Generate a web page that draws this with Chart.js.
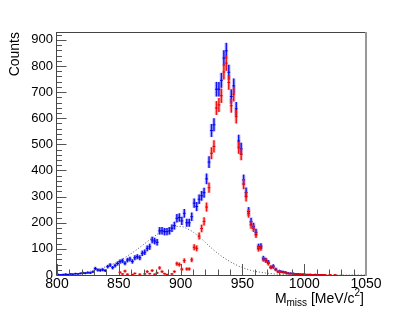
<!DOCTYPE html>
<html><head><meta charset="utf-8">
<script src="https://cdn.jsdelivr.net/npm/chart.js@4.4.0/dist/chart.umd.min.js"></script>
<style>html,body{margin:0;padding:0;background:#fff;} canvas{display:block;}</style>
</head><body>
<canvas id="c" width="407" height="320"></canvas>
<script>
// Bin centres (2 MeV bins, 800-1050 MeV)
const binCenters = [
  801,803,805,807,809,811,813,815,817,819,
  821,823,825,827,829,831,833,835,837,839,
  841,843,845,847,849,851,853,855,857,859,
  861,863,865,867,869,871,873,875,877,879,
  881,883,885,887,889,891,893,895,897,899,
  901,903,905,907,909,911,913,915,917,919,
  921,923,925,927,929,931,933,935,937,939,
  941,943,945,947,949,951,953,955,957,959,
  961,963,965,967,969,971,973,975,977,979,
  981,983,985,987,989,991,993,995,997,999,
  1001,1003,1005,1007,1009,1011,1013,1015,1017,1019,
  1021,1023,1025,1027,1029,1031,1033,1035,1037,1039,
  1041,1043,1045,1047,1049
];
// Blue histogram counts
const blueCounts = [
  2,1,2,3,2,4,3,5,4,6,
  8,7,9,8,12,25,19,18,20,17,
  32,38,28,36,44,51,54,45,57,61,
  52,66,70,66,83,87,102,108,134,130,
  125,169,169,166,166,169,179,189,217,220,
  207,236,200,200,223,275,262,290,303,315,
  368,432,553,575,711,711,745,830,858,776,
  683,724,636,513,483,364,316,243,204,185,
  163,108,110,64,57,49,30,34,22,13,
  13,12,10,7,6,6,4,4,3,3,
  2,2,2,1,2,1,1,1,null,null,
  null,null,null,null,null,null,null,null,null,null,
  null,null,null,null,null
];
// Red histogram counts
const redCounts = [
  null,null,null,null,null,null,null,null,null,null,
  null,null,null,null,null,null,null,null,null,null,
  null,null,null,null,null,10,4,15,3,null,
  2,6,null,3,null,4,13,5,17,3,
  8,27,13,5,2,null,4,13,43,40,
  22,55,23,23,58,106,102,149,178,205,
  260,334,466,492,639,651,686,777,811,737,
  648,692,606,487,462,348,300,236,192,179,
  155,101,104,60,55,44,29,30,20,12,
  12,10,8,6,5,4,3,3,2,2,
  2,1,2,1,1,1,1,1,1,null,
  1,null,1,null,null,null,null,null,null,null,
  null,null,null,null,null
];
// Dotted background curve
const curveX = [800,808,816,822,829,836,843,849,856,863,870,876,883,889,895,900,905,910,915,920,924,928,932,936,940,944,948,952,956,960,964,968,972,976,980,985,990,1000,1050];
const curveY = [1,2,5,9,17,26,38,50,70,92,117,138,162,177,185,186,178,165,146,125,107,91,76,63,51,41,32,25,19,14,11,8,6,4,3,2,1,0,0];
// Axis ticks
const xTickValues = [800,850,900,950,1000,1050];
const yTickValues = [0,100,200,300,400,500,600,700,800,900];

const FONT = '"Liberation Sans", Arial, Helvetica, sans-serif';

function errData(vals) {
  return binCenters.map((x, i) => vals[i] == null ? null : {x: x, y: [vals[i] - Math.sqrt(vals[i]), vals[i] + Math.sqrt(vals[i])]}).filter(Boolean);
}
function ptData(vals) {
  return binCenters.map((x, i) => vals[i] == null ? null : {x: x, y: vals[i]}).filter(Boolean);
}

const decor = {
  id: 'decor',
  afterDatasetsDraw(chart) {
    const {ctx, chartArea: a, scales: {x, y}} = chart;
    ctx.save();
    ctx.strokeStyle = '#555';
    ctx.lineWidth = 1;
    ctx.beginPath();
    for (let v = 800; v <= 1050; v += 10) {
      const px = Math.round(x.getPixelForValue(v)) + 0.5;
      const len = (v % 50 === 0) ? 11 : 5.5;
      ctx.moveTo(px, a.bottom); ctx.lineTo(px, a.bottom - len);
    }
    for (let v = 0; v <= 920; v += 20) {
      const py = Math.round(y.getPixelForValue(v)) + 0.5;
      const len = (v % 100 === 0) ? 9.5 : 5;
      ctx.moveTo(a.left, py); ctx.lineTo(a.left + len, py);
    }
    ctx.stroke();
    ctx.strokeStyle = '#444';
    ctx.beginPath();
    ctx.moveTo(a.left - 0.5, a.top); ctx.lineTo(a.left - 0.5, a.bottom + 0.5);
    ctx.lineTo(a.right, a.bottom + 0.5);
    ctx.moveTo(a.left, a.top + 0.5); ctx.lineTo(a.right, a.top + 0.5);
    ctx.stroke();
    ctx.strokeStyle = '#999';
    ctx.lineWidth = 2;
    ctx.beginPath();
    ctx.moveTo(a.right, a.top); ctx.lineTo(a.right, a.bottom + 1);
    ctx.stroke();
    ctx.restore();
  },
  afterDraw(chart) {
    const {ctx, chartArea: a} = chart;
    ctx.save();
    ctx.fillStyle = '#000';
    ctx.font = '14px ' + FONT;
    ctx.translate(15, a.top);
    ctx.rotate(-Math.PI / 2);
    ctx.textAlign = 'right';
    ctx.textBaseline = 'middle';
    ctx.fillText('Counts', 0, 0);
    ctx.restore();
    ctx.save();
    ctx.fillStyle = '#000';
    ctx.textAlign = 'left';
    ctx.textBaseline = 'alphabetic';
    const big = '14px ' + FONT, small = '10px ' + FONT;
    const parts = [
      {t: 'M', f: big, dy: 0},
      {t: 'miss', f: small, dy: 3},
      {t: ' [MeV/c', f: big, dy: 0},
      {t: '2', f: small, dy: -7},
      {t: ']', f: big, dy: 0}
    ];
    let w = 0;
    parts.forEach(p => { ctx.font = p.f; p.w = ctx.measureText(p.t).width; w += p.w; });
    let xx = a.right - w - 2;
    const base = 302.5;
    parts.forEach(p => { ctx.font = p.f; ctx.fillText(p.t, xx, base + p.dy); xx += p.w; });
    ctx.restore();
  }
};

const blueLight = 'rgba(60,60,255,0.3)';
const redLight = 'rgba(255,60,60,0.3)';

new Chart(document.getElementById('c'), {
  type: 'bar',
  data: {
    datasets: [
      {type: 'line', data: curveX.map((x, i) => ({x: x, y: curveY[i]})), borderColor: '#555', borderWidth: 1, borderDash: [1, 2], pointRadius: 0, cubicInterpolationMode: 'monotone', order: 10},
      {type: 'bar', data: errData(blueCounts), backgroundColor: blueLight, barThickness: 3, grouped: false, order: 9},
      {type: 'bar', data: errData(redCounts), backgroundColor: redLight, barThickness: 3, grouped: false, order: 8},
      {type: 'bar', data: errData(blueCounts), backgroundColor: 'rgb(20,20,240)', barThickness: 0.8, grouped: false, order: 6},
      {type: 'line', data: ptData(blueCounts), showLine: false, pointStyle: 'line', pointRadius: 1.4, pointBorderWidth: 1, pointBorderColor: 'rgb(0,0,230)', order: 5},
      {type: 'bar', data: errData(redCounts), backgroundColor: 'rgb(240,20,20)', barThickness: 0.8, grouped: false, order: 4},
      {type: 'line', data: ptData(redCounts), showLine: false, pointStyle: 'line', pointRadius: 1.4, pointBorderWidth: 1, pointBorderColor: 'rgb(230,0,0)', order: 3}
    ]
  },
  options: {
    responsive: false,
    animation: false,
    devicePixelRatio: 1,
    layout: {padding: {top: 32, right: 41, left: 0, bottom: 0}},
    plugins: {legend: {display: false}, tooltip: {enabled: false}},
    scales: {
      x: {
        type: 'linear', min: 800, max: 1050, offset: false,
        grid: {display: false, drawTicks: false},
        border: {display: false},
        afterBuildTicks: s => { s.ticks = xTickValues.map(v => ({value: v})); },
        afterFit: s => { s.height = 45; },
        ticks: {autoSkip: false, maxRotation: 0, padding: 1, color: '#000', font: {family: FONT, size: 14}, callback: v => String(v)}
      },
      y: {
        type: 'linear', min: 0, max: 930,
        grid: {display: false, drawTicks: false},
        border: {display: false},
        afterBuildTicks: s => { s.ticks = yTickValues.map(v => ({value: v})); },
        afterFit: s => { s.width = 57; },
        ticks: {padding: 4, color: '#000', font: {family: FONT, size: 13}, callback: v => String(v)}
      }
    }
  },
  plugins: [decor]
});
</script>
</body></html>
